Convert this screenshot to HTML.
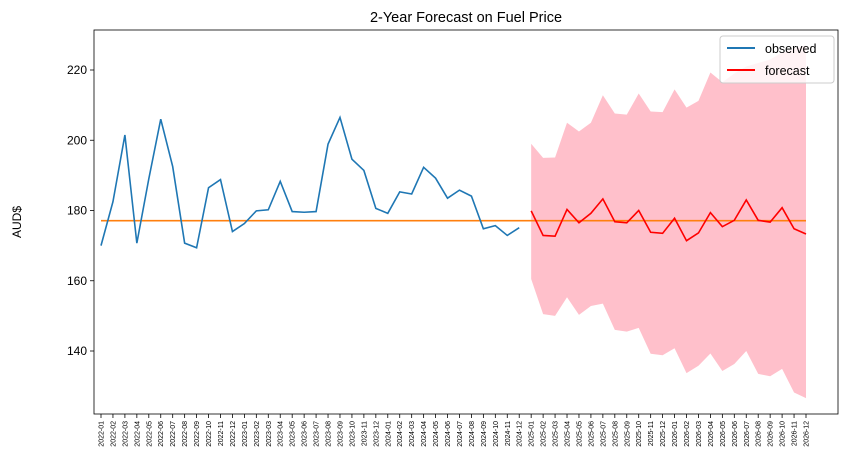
<!DOCTYPE html>
<html><head><meta charset="utf-8"><style>
body{margin:0;background:#fff;}
svg text{font-family:"Liberation Sans","DejaVu Sans",sans-serif;}
</style></head><body>
<svg id="chart" width="850" height="469" xmlns="http://www.w3.org/2000/svg">
<rect width="850" height="469" fill="#fff"/>
<text x="466" y="22" text-anchor="middle" font-size="14.5">2-Year Forecast on Fuel Price</text>
<text transform="translate(21,222) rotate(-90)" text-anchor="middle" font-size="12">AUD$</text>
<g id="band"></g>
<g id="mean"></g>
<g id="lines"></g>
<g id="axes"></g>
<g>
<rect x="720" y="36" width="114" height="47" fill="#fff" fill-opacity="0.8" stroke="#ccc" rx="3"/>
<line x1="727" y1="48" x2="755" y2="48" stroke="#1f77b4" stroke-width="2"/>
<text x="765" y="53" font-size="12.5">observed</text>
<line x1="727" y1="70" x2="755" y2="70" stroke="red" stroke-width="2"/>
<text x="765" y="75" font-size="12.5">forecast</text>
</g>
</svg>
<script>
const observed=[170,182.5,201.5,170.7,189,206,192.5,170.7,169.4,186.5,188.8,174,176.3,179.9,180.2,188.3,179.7,179.5,179.7,198.9,206.5,194.6,191.4,180.6,179.2,185.3,184.7,192.3,189.2,183.5,185.8,184.1,174.8,175.7,172.9,175.1];
const forecast=[179.9,172.9,172.7,180.3,176.5,179.2,183.3,176.8,176.5,180,173.8,173.5,177.8,171.4,173.6,179.4,175.4,177.2,183,177.2,176.7,180.8,174.8,173.3];
const upper=[199,195,195.1,205,202.5,205,212.8,207.6,207.3,213.3,208.2,208,214.5,209.3,211.2,219.3,216.5,219,221,222,223,225,226,227];
const lower=[160.5,150.5,150,155.3,150.3,152.8,153.5,146,145.5,146.6,139.2,138.8,140.8,133.7,135.8,139.3,134.3,136.3,140,133.5,132.8,134.9,128.2,126.6];
const meanValue=177.1;
const yTicks=[140,160,180,200,220];
const months=[];
for(let y=2022;y<=2026;y++)for(let m=1;m<=12;m++)months.push(y+'-'+String(m).padStart(2,'0'));

const NS='http://www.w3.org/2000/svg';
const L=94,R=838,T=30,B=414;
const xs=i=>101+i*(705/59);
const ys=v=>70+(220-v)*3.5125;
function mk(t,a,p){const e=document.createElementNS(NS,t);for(const k in a)e.setAttribute(k,a[k]);p.appendChild(e);return e;}
const off=observed.length;
// band
let pts=upper.map((v,i)=>xs(off+i)+','+ys(v));
pts=pts.concat(lower.map((v,i)=>xs(off+i)+','+ys(v)).reverse());
const band=mk('polygon',{points:pts.join(' '),fill:'pink'},document.getElementById('band'));


const lg=document.getElementById('lines');
const ob=mk('polyline',{points:observed.map((v,i)=>xs(i)+','+ys(v)).join(' '),fill:'none',stroke:'#1f77b4','stroke-width':1.6},lg);


const fc=mk('polyline',{points:forecast.map((v,i)=>xs(off+i)+','+ys(v)).join(' '),fill:'none',stroke:'red','stroke-width':1.6},lg);


const mn=mk('line',{x1:xs(0),x2:xs(months.length-1),y1:ys(meanValue),y2:ys(meanValue),stroke:'#ff7f0e','stroke-width':1.6},document.getElementById('mean'));


const ax=document.getElementById('axes');
mk('rect',{x:L,y:T,width:R-L,height:B-T,fill:'none',stroke:'#000','stroke-width':0.8},ax);
yTicks.forEach(v=>{
  mk('line',{x1:L-4,x2:L,y1:ys(v),y2:ys(v),stroke:'#000','stroke-width':0.8},ax);
  const t=mk('text',{x:L-7,y:ys(v)+4,'text-anchor':'end','font-size':12},ax);
  
  
  t.textContent=v;
});
months.forEach((m,i)=>{
  const x=xs(i);
  mk('line',{x1:x,x2:x,y1:B,y2:B+4,stroke:'#000','stroke-width':0.8},ax);
  const t=mk('text',{transform:'translate('+(x+2.5)+','+(B+7)+') rotate(-90)','text-anchor':'end','font-size':7},ax);
  
  
  t.textContent=m;
});
</script>
</body></html>
